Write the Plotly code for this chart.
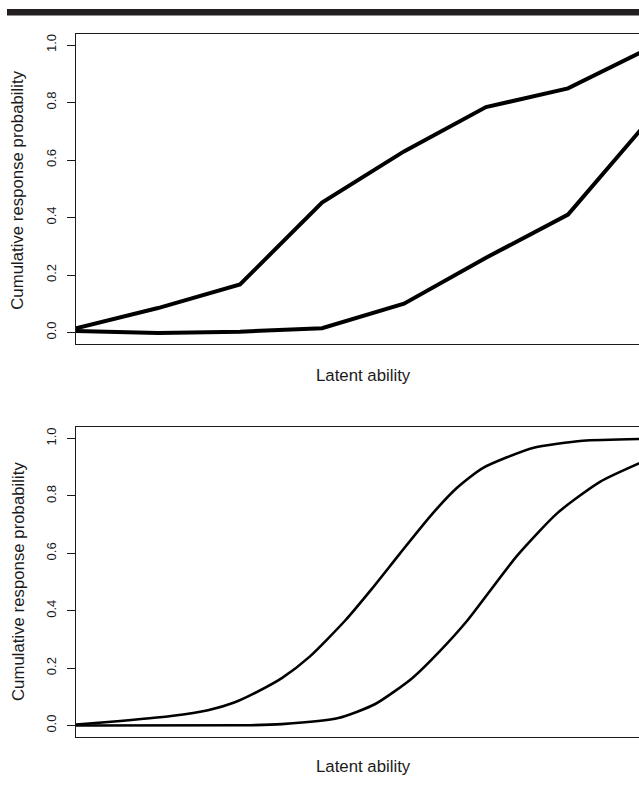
import plotly.graph_objects as go

# ---------------- data ----------------
# top panel: piecewise-linear cumulative curves at nodes of latent ability
top_theta = [-3, -2, -1, 0, 1, 2, 3, 4]
top_upper = [0.015, 0.085, 0.167, 0.452, 0.630, 0.784, 0.849, 0.990]
top_lower = [0.005, -0.002, 0.003, 0.015, 0.100, 0.260, 0.410, 0.743]

# bottom panel: smooth cumulative curves
bot_theta_upper = [-3.00, -2.61, -1.84, -1.39, -1.07, -0.84, -0.49, -0.15, 0.28, 0.61,
                   0.95, 1.35, 1.65, 1.96, 2.57, 3.18, 4.00]
bot_upper = [0.003, 0.012, 0.033, 0.053, 0.080, 0.110, 0.165, 0.240, 0.365, 0.477,
             0.599, 0.739, 0.829, 0.897, 0.967, 0.992, 0.999]
bot_theta_lower = [-3.00, -0.88, -0.49, 0.20, 0.65, 1.10, 1.44, 1.77, 2.38, 2.87, 3.39, 4.00]
bot_lower = [0.000, 0.001, 0.005, 0.026, 0.075, 0.165, 0.260, 0.365, 0.592, 0.740, 0.849, 0.930]

y_ticks = [0.0, 0.2, 0.4, 0.6, 0.8, 1.0]
y_tick_labels = ["0.0", "0.2", "0.4", "0.6", "0.8", "1.0"]
y_title = "Cumulative response probability"
x_title = "Latent ability"

# ---------------- figure ----------------
W, H = 639, 786
L = 76
FONT = "Liberation Sans, Arial, Helvetica, sans-serif"
INK = "#1a1a1a"

fig = go.Figure()
fig.add_trace(go.Scatter(x=top_theta, y=top_upper, mode="lines",
                         line=dict(color="black", width=4), xaxis="x", yaxis="y",
                         showlegend=False, hoverinfo="skip"))
fig.add_trace(go.Scatter(x=top_theta, y=top_lower, mode="lines",
                         line=dict(color="black", width=4), xaxis="x", yaxis="y",
                         showlegend=False, hoverinfo="skip"))
fig.add_trace(go.Scatter(x=bot_theta_upper, y=bot_upper, mode="lines",
                         line=dict(color="black", width=2.6, shape="spline", smoothing=0.6),
                         xaxis="x2", yaxis="y2", showlegend=False, hoverinfo="skip"))
fig.add_trace(go.Scatter(x=bot_theta_lower, y=bot_lower, mode="lines",
                         line=dict(color="black", width=2.6, shape="spline", smoothing=0.6),
                         xaxis="x2", yaxis="y2", showlegend=False, hoverinfo="skip"))


def py(px):
    return (H - px) / H


top_dom = [py(344), py(33.5)]
bot_dom = [py(737), py(427)]
xr = [-3, (639 - 76) / 82 - 3]

xcommon = dict(range=xr, showline=True, mirror=True, linecolor=INK, linewidth=1,
               showticklabels=False, ticks="", showgrid=False, zeroline=False,
               domain=[0, 1])
ycommon = dict(range=[-0.04, 1.04], showline=True, mirror=False, linecolor=INK,
               linewidth=1, tickvals=y_ticks, ticktext=y_tick_labels, ticks="outside",
               ticklen=8, tickwidth=1, tickcolor=INK, tickangle=-90,
               tickfont=dict(family=FONT, size=13, color=INK),
               ticklabelstandoff=6,
               showgrid=False, zeroline=False)

fig.update_layout(
    width=W, height=H,
    margin=dict(l=L, r=0, t=0, b=0),
    paper_bgcolor="white", plot_bgcolor="white",
    xaxis=dict(**xcommon, anchor="y"),
    yaxis=dict(**ycommon, domain=top_dom, anchor="x"),
    xaxis2=dict(**xcommon, anchor="y2"),
    yaxis2=dict(**ycommon, domain=bot_dom, anchor="x2"),
)

pw = W - L


def pxx(px):
    return (px - L) / pw


ann = []
for yc in [(33.5 + 344) / 2 + 2, (427 + 737) / 2]:
    ann.append(dict(text=y_title, x=pxx(18), y=py(yc), xref="paper", yref="paper",
                    textangle=-90, showarrow=False, xanchor="center", yanchor="middle",
                    font=dict(family=FONT, size=16.8, color=INK)))
for yc in [376, 766]:
    ann.append(dict(text=x_title, x=pxx(363), y=py(yc), xref="paper", yref="paper",
                    showarrow=False, xanchor="center", yanchor="middle",
                    font=dict(family=FONT, size=16.8, color=INK)))
fig.update_layout(annotations=ann)

# black rule at the top of the page
fig.add_shape(type="rect", xref="paper", yref="paper", x0=pxx(7), x1=1.0,
              y0=py(15.5), y1=py(9), fillcolor="#231f20", line=dict(width=0),
              layer="above")

fig.write_html(
    "out.html",
    config={"displayModeBar": False, "staticPlot": True},
    post_script="document.body.style.margin='0';document.body.style.overflow='hidden';",
)
